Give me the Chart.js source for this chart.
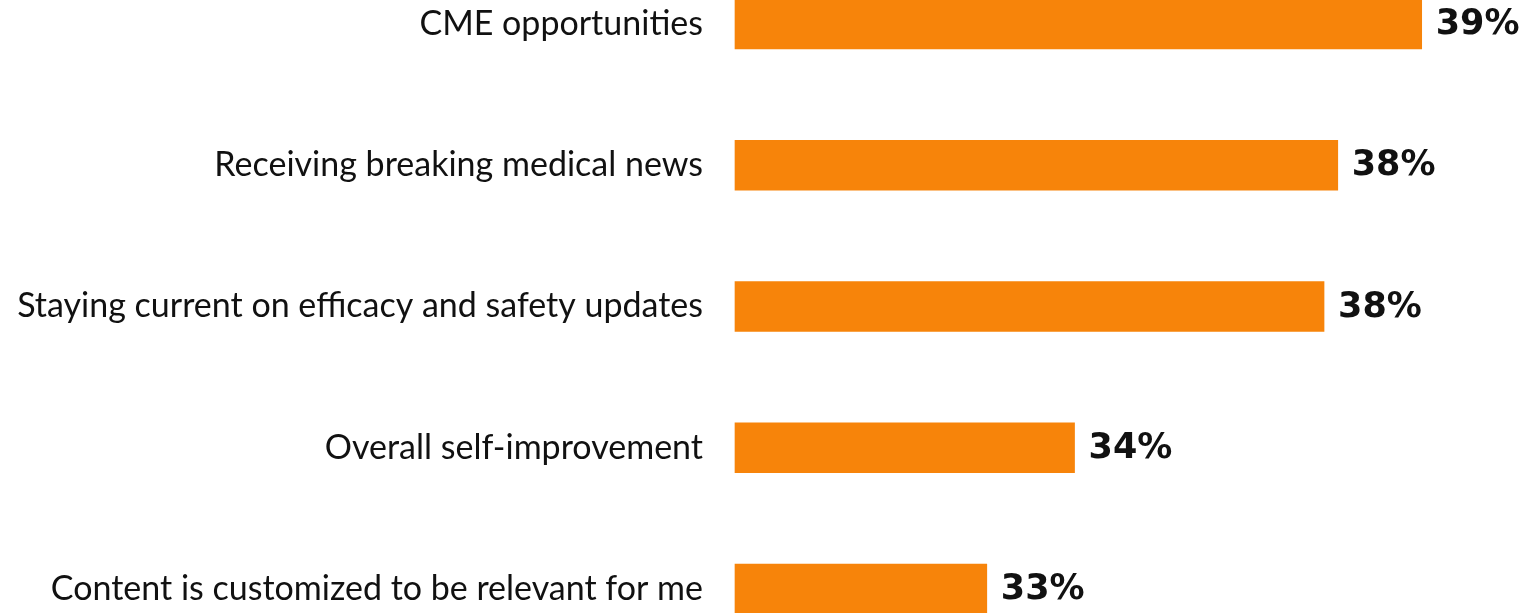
<!DOCTYPE html>
<html>
<head>
<meta charset="utf-8">
<script src="https://cdn.jsdelivr.net/npm/chart.js@4.4.1/dist/chart.umd.min.js"></script>
<style>
html,body{margin:0;padding:0;background:#fff;}
#wrap{width:1524px;height:613px;position:relative;}
</style>
</head>
<body>
<div id="wrap"><canvas id="c"></canvas></div>
<script>
const categories = [
  "CME opportunities",
  "Receiving breaking medical news",
  "Staying current on efficacy and safety updates",
  "Overall self-improvement",
  "Content is customized to be relevant for me"
];
const values = [39, 37.9, 37.72, 34.45, 33.3];
const valueLabels = ["39%", "38%", "38%", "34%", "33%"];
const axisMin = 30;
const axisMax = 40;

const labelPlugin = {
  id: 'valLabels',
  afterDatasetsDraw(chart) {
    const ctx = chart.ctx;
    const meta = chart.getDatasetMeta(0);
    ctx.save();
    ctx.font = 'bold 35px "DejaVu Sans"';
    ctx.fillStyle = '#111';
    ctx.textAlign = 'left';
    ctx.textBaseline = 'middle';
    meta.data.forEach((bar, i) => {
      ctx.fillText(valueLabels[i], bar.x + 14, bar.y + 1);
    });
    ctx.restore();
  }
};

new Chart(document.getElementById('c'), {
  type: 'bar',
  data: {
    labels: categories,
    datasets: [{
      data: values,
      base: axisMin,
      backgroundColor: 'rgb(247,132,10)',
      barThickness: 50,
      clip: false,
      borderWidth: 0
    }]
  },
  options: {
    indexAxis: 'y',
    responsive: true,
    maintainAspectRatio: false,
    animation: false,
    layout: { padding: { top: 24, bottom: 24, right: 26, left: 0 } },
    plugins: { legend: { display: false }, tooltip: { enabled: false } },
    scales: {
      x: { display: false, min: axisMin, max: axisMax },
      y: {
        offset: false,
        grid: { display: false, drawTicks: false },
        border: { display: false },
        ticks: {
          color: '#111',
          padding: 32,
          font: { family: 'Lato', size: 34 }
        },
        afterFit(scale) {
          scale.width = 735;
          scale.paddingTop = 0;
          scale.paddingBottom = 0;
        }
      }
    }
  },
  plugins: [labelPlugin]
});
</script>
</body>
</html>
